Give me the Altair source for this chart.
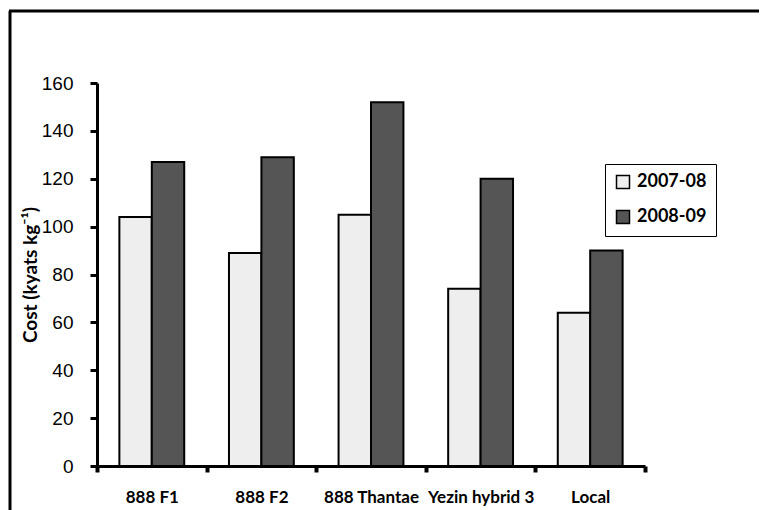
import altair as alt
import pandas as pd

categories = ["888 F1", "888 F2", "888 Thantae", "Yezin hybrid 3", "Local"]
series = ["2007-08", "2008-09"]
values_2007_08 = [104, 89, 105, 74, 64]
values_2008_09 = [127, 129, 152, 120, 90]
y_ticks = [0, 20, 40, 60, 80, 100, 120, 140, 160]

rows = []
for c, a, b in zip(categories, values_2007_08, values_2008_09):
    rows.append({"variety": c, "season": series[0], "cost": a})
    rows.append({"variety": c, "season": series[1], "cost": b})
df = pd.DataFrame(rows)

W, H = 548, 383

bars = alt.Chart(df).mark_bar(stroke="black", strokeWidth=2).encode(
    x=alt.X(
        "variety:N",
        sort=categories,
        scale=alt.Scale(paddingInner=0, paddingOuter=0),
        axis=alt.Axis(
            title=None, labelAngle=0, tickBand="extent", grid=False,
            domainColor="black", domainWidth=3,
            tickColor="black", tickWidth=4, tickSize=6,
            labelFont="Lato", labelFontWeight="bold", labelFontSize=17,
            labelColor="black", labelPadding=17, labelOverlap=False, labelLimit=200,
        ),
    ),
    xOffset=alt.XOffset(
        "season:N", sort=series,
        scale=alt.Scale(paddingInner=0, paddingOuter=0.69),
    ),
    y=alt.Y(
        "cost:Q",
        scale=alt.Scale(domain=[0, 160], nice=False),
        axis=alt.Axis(
            values=y_ticks, grid=False,
            title="Cost (kyats kg\u207b\u00b9)",
            titleFont="Lato", titleFontWeight="bold", titleFontSize=19,
            titleColor="black", titlePadding=1,
            domainColor="black", domainWidth=3,
            tickColor="black", tickWidth=3, tickSize=7,
            labelFont="Liberation Sans", labelFontSize=19, labelColor="black",
            labelPadding=17,
        ),
    ),
    fill=alt.Fill(
        "season:N",
        scale=alt.Scale(domain=series, range=["#eeeeee", "#555555"]),
        legend=alt.Legend(
            title=None, orient="none", legendX=508, legendY=81,
            padding=9, strokeColor="black", fillColor="white",
            symbolType="square", symbolSize=169,
            symbolStrokeColor="black", symbolStrokeWidth=1.5,
            labelFont="Lato", labelFontWeight="bold", labelFontSize=18,
            labelColor="black", labelOffset=5, rowPadding=15,
        ),
    ),
)

frame_src = pd.DataFrame({"k": [0]})
frame_left = alt.Chart(frame_src).mark_rule(color="black", strokeWidth=3).encode(
    x=alt.value(-87), y=alt.value(-72), y2=alt.value(H + 44)
)
frame_top = alt.Chart(frame_src).mark_rule(color="black", strokeWidth=3).encode(
    x=alt.value(-88), x2=alt.value(W + 114), y=alt.value(-72)
)

chart = alt.layer(bars, frame_left, frame_top).properties(
    width=W, height=H,
    background="white",
    autosize=alt.AutoSizeParams(type="none"),
    padding={"left": 89, "top": 75, "right": 114, "bottom": 44},
).configure_view(strokeWidth=0)

chart.save("out.html", embed_options={"renderer": "svg", "actions": False})
